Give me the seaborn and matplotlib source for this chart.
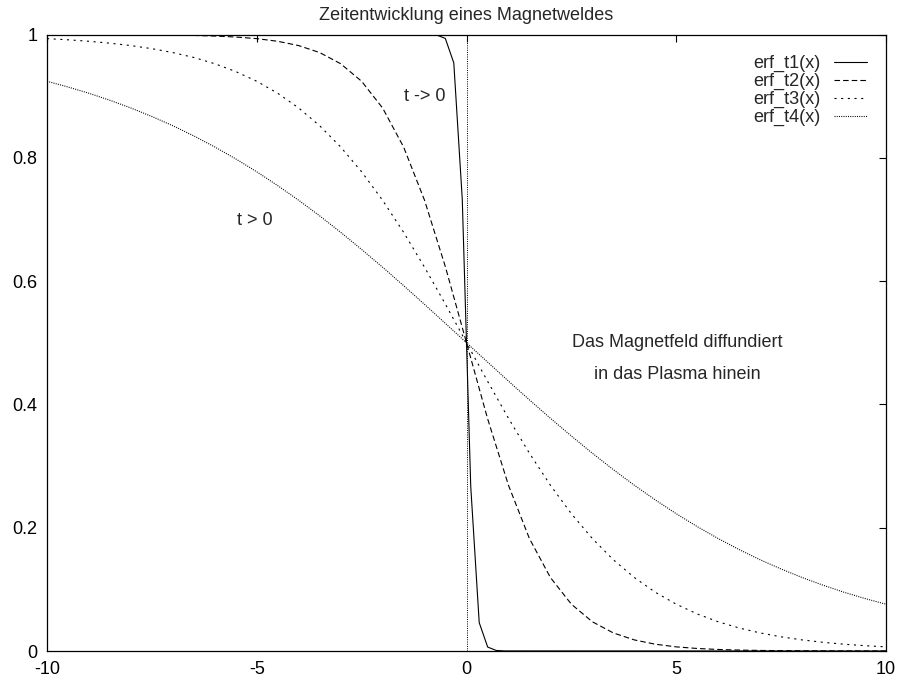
import numpy as np
import pandas as pd
import matplotlib
matplotlib.use("Agg")
import matplotlib.pyplot as plt
import seaborn as sns

# ---- data ----
x_t1 = [-10, -0.909, -0.707, -0.505, -0.303, -0.101, 0.101, 0.303, 0.505, 0.707, 0.909, 10]
y_t1 = [1.0, 0.9999, 0.9991, 0.9936, 0.954, 0.733, 0.267, 0.046, 0.0064, 0.0009, 0.0001, 0.0]

x_grid = [-10, -9.5, -9, -8.5, -8, -7.5, -7, -6.5, -6, -5.5, -5, -4.5, -4, -3.5, -3, -2.5,
          -2, -1.5, -1, -0.5, 0, 0.5, 1, 1.5, 2, 2.5, 3, 3.5, 4, 4.5, 5, 5.5, 6, 6.5, 7,
          7.5, 8, 8.5, 9, 9.5, 10]

# right half (x = 0 .. 10); left half is mirrored (1 - value)
t2_right = [0.5, 0.3775, 0.2689, 0.1824, 0.1192, 0.0759, 0.0474, 0.0293, 0.0180, 0.0110,
            0.0067, 0.0041, 0.0025, 0.0015, 0.0009, 0.00055, 0.00034, 0.0002, 0.00012,
            0.00007, 0.00005]
t3_right = [0.5, 0.4378, 0.3775, 0.3208, 0.2689, 0.2227, 0.1824, 0.1480, 0.1192, 0.0953,
            0.0759, 0.0601, 0.0474, 0.0373, 0.0293, 0.0230, 0.0180, 0.0141, 0.0110,
            0.0086, 0.0067]
t4_right = [0.5, 0.4688, 0.4378, 0.4073, 0.3775, 0.3487, 0.3208, 0.2942, 0.2689, 0.2451,
            0.2227, 0.2018, 0.1824, 0.1645, 0.1480, 0.1330, 0.1192, 0.1067, 0.0953,
            0.0851, 0.0759]

def full(right):
    left = [1 - v for v in right[:0:-1]]
    return left + right

y_t2 = full(t2_right)
y_t3 = full(t3_right)
y_t4 = full(t4_right)

labels = ["erf_t1(x)", "erf_t2(x)", "erf_t3(x)", "erf_t4(x)"]
x_ticks = [-10, -5, 0, 5, 10]
y_ticks = [0, 0.2, 0.4, 0.6, 0.8, 1]
y_ticklabels = ["0", "0.2", "0.4", "0.6", "0.8", "1"]

title = "Zeitentwicklung eines Magnetweldes"

# ---- plotting ----
sns.set_style("white")
plt.rcParams['font.family'] = ['Liberation Sans', 'DejaVu Sans']
plt.rcParams['lines.scale_dashes'] = False

FS = 13
fig = plt.figure(figsize=(8.97, 6.82), dpi=100)
W, H = 897, 682
ax = fig.add_axes([47 / W, (H - 651) / H, (886 - 47) / W, (651 - 34.5) / H])

lw = 0.8
styles = ["-", (0, (4.0, 2.2)), (0, (1.5, 3.3)), (0, (0.72, 0.9))]
series = [(x_t1, y_t1), (x_grid, y_t2), (x_grid, y_t3), (x_grid, y_t4)]
for (xs, ys), lab, ls in zip(series, labels, styles):
    df = pd.DataFrame({"x": xs, "y": ys})
    sns.lineplot(data=df, x="x", y="y", ax=ax, color="black", linewidth=lw,
                 linestyle=ls, label=lab, estimator=None, sort=False)

# zero axis (dotted vertical line at x=0)
ax.axvline(0, color="black", linewidth=0.7, linestyle=(0, (0.72, 0.9)))

ax.set_xlim(-10, 10)
ax.set_ylim(0, 1)
ax.set_xticks(x_ticks)
ax.set_xticklabels([str(t) for t in x_ticks])
ax.set_yticks(y_ticks)
ax.set_yticklabels(y_ticklabels)
ax.set_xlabel("")
ax.set_ylabel("")
ax.tick_params(direction="in", length=5, width=0.8, top=True, right=True,
               labelsize=FS, colors="black", pad=7)
for s in ax.spines.values():
    s.set_color("black")
    s.set_linewidth(0.9)

fig.text(466 / W, 1 - 16 / H, title, ha="center", va="center", fontsize=FS)

ax.text(-1.0, 0.899, "t -> 0", ha="center", va="center", fontsize=FS)
ax.text(-5.04, 0.699, "t > 0", ha="center", va="center", fontsize=FS)
ax.text(5.02, 0.4996, "Das Magnetfeld diffundiert", ha="center", va="center", fontsize=FS)
ax.text(5.02, 0.448, "in das Plasma hinein", ha="center", va="center", fontsize=FS)

leg = ax.legend(loc="upper right", frameon=False, markerfirst=False,
                fontsize=FS, handlelength=1.83, handletextpad=0.72,
                labelspacing=0.05, borderpad=0, borderaxespad=0,
                bbox_to_anchor=(867 / W, 1 - 55 / H), bbox_transform=fig.transFigure)

fig.savefig("out.png", dpi=100, facecolor="white")
